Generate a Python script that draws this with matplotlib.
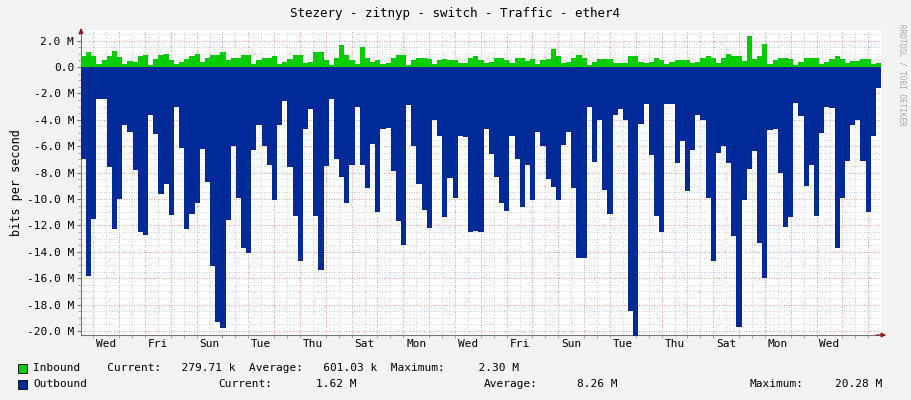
import numpy as np
import matplotlib.pyplot as plt
from matplotlib.ticker import MultipleLocator, FixedLocator

# traffic samples (M bits/s), equal time steps over ~31 days
outbound = [7.0, 15.8, 11.5, 2.4, 2.4, 7.6, 12.3, 10.0, 4.4, 4.9, 7.8, 12.5, 12.7, 3.6, 5.1,
            9.6, 8.9, 11.2, 3.0, 6.1, 12.3, 11.1, 10.3, 6.2, 8.7, 15.1, 19.3, 19.8, 11.6, 6.0,
            9.9, 13.7, 14.1, 6.3, 4.4, 6.0, 7.4, 10.1, 4.4,
            2.6, 7.6, 11.3, 14.7, 4.7, 3.2, 11.3, 15.4, 7.5, 2.4, 7.0, 8.3, 10.3, 7.4, 3.0,
            7.4, 9.2, 5.8, 11.0, 4.7, 4.6, 7.9, 11.7, 13.5, 2.9, 6.0, 8.9, 10.8, 12.2, 4.0,
            5.2, 11.4, 8.4, 9.9, 5.2, 5.3, 12.5, 12.4, 12.5, 4.7, 6.6,
            8.3, 10.3, 10.9, 5.2, 7.0, 10.6, 7.4, 10.1, 4.9, 6.0, 8.5, 9.1, 10.1, 5.9, 4.9,
            9.2, 14.5, 14.5, 3.0, 7.2, 4.0, 9.3, 11.1, 3.6, 3.2, 4.0, 18.5, 20.4, 4.3, 2.8,
            6.7, 11.3, 12.5, 2.8, 2.8, 7.3, 5.6, 9.4, 6.3,
            3.6, 4.0, 9.9, 14.7, 6.5, 6.0, 7.3, 12.8, 19.7, 10.1, 7.7, 6.4, 13.3, 16.0, 4.8,
            4.7, 8.0, 12.1, 11.4, 2.75, 3.7, 9.0, 7.4, 11.3, 5.0, 3.0, 3.1, 13.7, 9.9, 7.1,
            4.4, 4.0, 7.1, 11.0, 5.2, 1.6]
inbound = [0.8, 1.1, 0.8, 0.2, 0.5, 0.8, 1.2, 0.75, 0.2, 0.45, 0.4, 0.8, 0.9, 0.15, 0.6,
           0.9, 1.0, 0.5, 0.2, 0.4, 0.6, 0.8, 1.0, 0.4, 0.65, 0.9, 0.9, 1.15, 0.5, 0.7,
           0.7, 0.9, 0.9, 0.2, 0.5, 0.7, 0.7, 0.8, 0.2,
           0.4, 0.6, 0.9, 0.9, 0.3, 0.4, 1.1, 1.1, 0.5, 0.15, 0.65, 1.7, 0.9, 0.5, 0.2,
           1.55, 0.7, 0.4, 0.5, 0.2, 0.3, 0.7, 0.9, 0.9, 0.15, 0.5, 0.65, 0.65, 0.6, 0.2,
           0.5, 0.6, 0.5, 0.5, 0.3, 0.3, 0.65, 0.8, 0.5, 0.3, 0.4,
           0.65, 0.7, 0.5, 0.3, 0.65, 0.7, 0.45, 0.6, 0.2, 0.5, 0.6, 1.35, 0.8, 0.3, 0.4,
           0.7, 0.9, 0.7, 0.15, 0.4, 0.6, 0.6, 0.6, 0.3, 0.3, 0.3, 0.8, 0.8, 0.4, 0.3,
           0.4, 0.7, 0.5, 0.2, 0.4, 0.5, 0.5, 0.5, 0.3,
           0.35, 0.7, 0.8, 0.7, 0.3, 0.7, 1.0, 0.8, 0.8, 0.45, 2.35, 0.6, 0.8, 1.75, 0.2,
           0.5, 0.65, 0.7, 0.6, 0.15, 0.4, 0.65, 0.65, 0.65, 0.2, 0.4, 0.6, 0.8, 0.6, 0.3,
           0.45, 0.45, 0.6, 0.6, 0.2, 0.3]
days = ['Wed', 'Fri', 'Sun', 'Tue', 'Thu', 'Sat', 'Mon', 'Wed', 'Fri', 'Sun', 'Tue', 'Thu', 'Sat', 'Mon', 'Wed']
span = 30.97      # days shown
first_midnight = 0.477

n = len(outbound)
x = np.arange(n + 1) * span / n
out = -np.array(outbound + [outbound[-1]])
inb = np.array(inbound[:n] + [inbound[-1]] * (n + 1 - len(inbound[:n])))

mono = 'DejaVu Sans Mono'
fig = plt.figure(figsize=(9.11, 4.0), dpi=100, facecolor='#f3f3f3')
ax = fig.add_axes([81/911, 65/400, 800/911, 305/400])
ax.set_facecolor('white')

ax.fill_between(x, 0, inb, step='post', color='#00cc00', lw=0, zorder=3)
ax.fill_between(x, 0, out, step='post', color='#002a97', lw=0, zorder=3)

ax.set_xlim(0, span)
ax.set_ylim(-20.3, 2.8)
mids = first_midnight + np.arange(0, 31)
ax.xaxis.set_minor_locator(FixedLocator(np.concatenate([mids - 0.5, mids])))
ax.xaxis.set_major_locator(FixedLocator(first_midnight + 0.5 + 2 * np.arange(len(days))))
ax.set_xticklabels(days, fontfamily=mono, fontsize=8)
for m in mids:
    ax.axvline(m, color='#e08080', ls=(0, (1, 2)), lw=0.6, zorder=1)
for m in mids - 0.5:
    ax.axvline(m, color='#c8c8c8', ls=(0, (1, 2)), lw=0.6, zorder=1)
for v in np.arange(-20, 3, 0.5):
    c = '#e08080' if abs(v % 2) < 1e-9 else '#c8c8c8'
    ax.axhline(v, color=c, ls=(0, (1, 2)), lw=0.6, zorder=1)
ax.yaxis.set_major_locator(MultipleLocator(2))
ax.yaxis.set_minor_locator(MultipleLocator(0.5))
ax.set_yticks(np.arange(-20, 3, 2))
ax.set_yticklabels(['0.0' if v == 0 else '%.1f M' % v for v in np.arange(-20, 3, 2)],
                   fontfamily=mono, fontsize=8)
ax.tick_params(which='major', length=3, color='#777777', pad=2)
ax.tick_params(which='minor', length=2, color='#999999')
ax.tick_params(axis='x', which='major', length=0, pad=3)
for s in ['top', 'right']:
    ax.spines[s].set_visible(False)
for s in ['left', 'bottom']:
    ax.spines[s].set_color('#777777')
ax.annotate('', xy=(1.01, 0), xycoords='axes fraction', xytext=(0.99, 0),
            arrowprops=dict(arrowstyle='-|>', color='#8b1a1a', lw=0.8, mutation_scale=7))
ax.annotate('', xy=(0, 1.015), xycoords='axes fraction', xytext=(0, 0.99),
            arrowprops=dict(arrowstyle='-|>', color='#8b1a1a', lw=0.8, mutation_scale=7))
ax.set_ylabel('bits per second', fontfamily=mono, fontsize=8.5, labelpad=3)

fig.text(455/911, 1 - 14/400, 'Stezery - zitnyp - switch - Traffic - ether4',
         ha='center', va='center', fontfamily=mono, fontsize=9)
fig.text(902/911, 1 - 75/400, 'RRDTOOL / TOBI OETIKER', rotation=270, ha='center', va='center',
         fontfamily=mono, fontsize=5.5, color='#aaaaaa')

def t(px, py, s):
    fig.text(px/911, 1 - py/400, s, ha='left', va='center', fontfamily=mono, fontsize=8)

fig.patches.append(plt.Rectangle((18/911, 1 - 373/400), 9/911, 9/400, transform=fig.transFigure,
                                 facecolor='#00cc00', edgecolor='black', lw=0.6))
fig.patches.append(plt.Rectangle((18/911, 1 - 389/400), 9/911, 9/400, transform=fig.transFigure,
                                 facecolor='#002a97', edgecolor='black', lw=0.6))
t(33, 368, 'Inbound    Current:   279.71 k  Average:   601.03 k  Maximum:     2.30 M')
t(33, 384, 'Outbound')
t(218, 384, 'Current:')
t(316, 384, '1.62 M')
t(484, 384, 'Average:')
t(577, 384, '8.26 M')
t(749, 384, 'Maximum:')
t(835, 384, '20.28 M')

plt.savefig('out.png', dpi=100, facecolor=fig.get_facecolor())
